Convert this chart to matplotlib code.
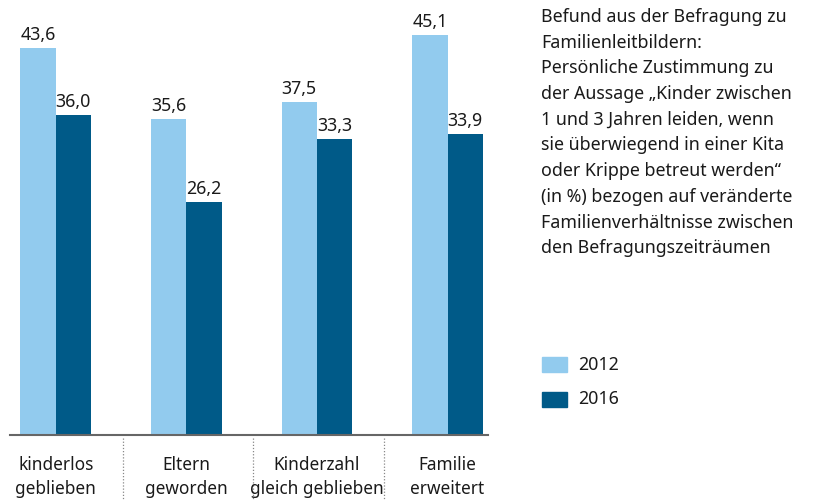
import numpy as np
import matplotlib
matplotlib.use("Agg")
import matplotlib.pyplot as plt
from matplotlib.patches import Rectangle

plt.rcParams["font.family"] = ["Noto Sans", "DejaVu Sans"]

categories = ["kinderlos\ngeblieben", "Eltern\ngeworden", "Kinderzahl\ngleich geblieben", "Familie\nerweitert"]
values_2012 = [43.6, 35.6, 37.5, 45.1]
values_2016 = [36.0, 26.2, 33.3, 33.9]
series_labels = ["2012", "2016"]
note = ("Befund aus der Befragung zu\nFamilienleitbildern:\nPersönliche Zustimmung zu\n"
        "der Aussage \u201eKinder zwischen\n1 und 3 Jahren leiden, wenn\n"
        "sie überwiegend in einer Kita\noder Krippe betreut werden\u201c\n"
        "(in %) bezogen auf veränderte\nFamilienverhältnisse zwischen\n"
        "den Befragungszeiträumen")

light = "#92cbee"
dark = "#005a88"
text_col = "#1a1a1a"

fig = plt.figure(figsize=(8.19, 5.0), dpi=100)
ax = fig.add_axes([10 / 819, 65 / 500, 478 / 819, 435 / 500])

x = np.arange(len(categories))
w = 0.27
b1 = ax.bar(x - w / 2, values_2012, w, color=light)
b2 = ax.bar(x + w / 2, values_2016, w, color=dark)

for bars, vals in [(b1, values_2012), (b2, values_2016)]:
    for bar, v in zip(bars, vals):
        ax.text(bar.get_x() + bar.get_width() / 2, v + 0.45, f"{v:.1f}".replace(".", ","),
                ha="center", va="bottom", fontsize=12.8, color=text_col)

ax.set_xlim(-0.350, 3.310)
ax.set_ylim(0, 49)
ax.set_yticks([])
ax.set_xticks([])
for s in ["top", "right", "left"]:
    ax.spines[s].set_visible(False)
ax.spines["bottom"].set_color("#666666")
ax.spines["bottom"].set_linewidth(1.5)

# dotted separators below the axis
for sx in [0.515, 1.508, 2.515]:
    ax.plot([sx, sx], [-0.3, -7.5], color="#888888", lw=0.9, ls=(0, (1, 1.5)), clip_on=False)

for xi, lab in zip(x, categories):
    ax.text(xi, -2.4, lab, ha="center", va="top", fontsize=12.4, color=text_col,
            linespacing=1.42)

fig.text(541 / 819, 1 - 8 / 500, note, ha="left", va="top", fontsize=12.8,
         color=text_col, linespacing=1.55)

for i, (lab, col) in enumerate(zip(series_labels, [light, dark])):
    y0 = 1 - (357 + 35 * i + 15) / 500
    fig.patches.append(Rectangle((542 / 819, y0), 25 / 819, 15 / 500, color=col,
                                 transform=fig.transFigure, figure=fig))
    fig.text(578 / 819, y0 + 7.5 / 500, lab, ha="left", va="center", fontsize=12.8, color=text_col)

fig.savefig("out.png", dpi=100)
